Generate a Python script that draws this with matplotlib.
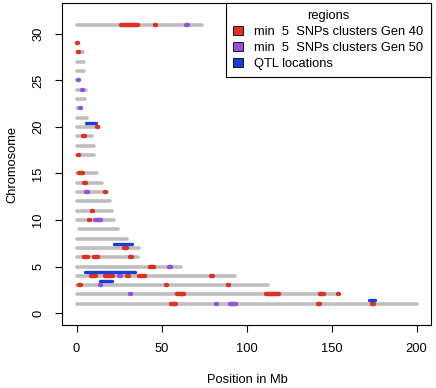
import matplotlib
matplotlib.use("Agg")
import matplotlib.pyplot as plt
from matplotlib.patches import Patch

plt.rcParams['font.family'] = ['Liberation Sans', 'DejaVu Sans']

# chromosome lengths in Mb (chromosome 1..31)
chrom_lengths = [200.3, 154.0, 112.8, 93.3, 61.3, 36.3, 36.8, 29.8, 24.5, 21.8,
                 20.8, 19.8, 18.0, 14.8, 12.1, 0.3, 10.2, 10.2, 9.2, 13.2,
                 6.2, 2.6, 5.0, 5.5, 1.3, 4.6, 4.3, 3.8, 0.5, 0.1, 73.8]
chrom_starts = [0] * 31
chrom_starts[8] = 1.5

# clusters (chromosome, start Mb, end Mb)
gen40 = [
    (1, 1.3, 1.7), (1, 55.3, 58.7), (1, 113.0, 113.1), (1, 117.1, 117.3),
    (1, 128.8, 129.1), (1, 142.1, 143.4), (1, 173.8, 174.7), (1, 186.6, 186.9),
    (1, 200.1, 200.2),
    (2, 4.3, 4.6), (2, 15.3, 15.4), (2, 59.1, 63.0), (2, 111.3, 119.3),
    (2, 143.3, 145.7), (2, 154.0, 154.1),
    (3, 1.3, 2.7), (3, 52.7, 53.2), (3, 68.6, 68.7), (3, 79.8, 79.9), (3, 89.3, 89.7),
    (4, 8.7, 11.4), (4, 17.0, 21.2), (4, 29.7, 31.0), (4, 37.0, 40.2),
    (4, 79.3, 80.1), (4, 85.0, 85.1),
    (5, 16.0, 16.1), (5, 43.0, 45.3), (5, 58.3, 58.7),
    (6, 4.3, 6.9), (6, 10.1, 12.4), (6, 31.7, 32.7),
    (7, 27.8, 29.7), (7, 36.9, 37.0),
    (10, 1.0, 1.1), (10, 7.5, 7.6),
    (11, 9.3, 9.5),
    (12, 17.3, 17.4),
    (13, 1.4, 1.5), (13, 10.6, 10.7), (13, 17.0, 17.3),
    (14, 0.7, 0.8), (14, 4.3, 5.5),
    (15, 1.3, 3.7),
    (17, 1.0, 1.2), (17, 7.8, 7.9),
    (19, 3.7, 4.9),
    (20, 11.8, 12.4),
    (23, 5.0, 5.1),
    (24, 1.2, 1.3),
    (26, 4.3, 4.6),
    (27, 1.6, 1.7),
    (28, 1.0, 1.2),
    (29, 0.5, 0.6),
    (31, 1.0, 1.1), (31, 26.3, 36.3), (31, 46.0, 47.0),
]

gen50 = [
    (1, 8.9, 9.0), (1, 24.3, 24.4), (1, 82.0, 82.6), (1, 90.3, 93.7),
    (1, 122.7, 122.8), (1, 137.0, 137.5), (1, 157.6, 157.7), (1, 192.9, 193.0),
    (2, 31.7, 31.8), (2, 56.0, 56.1),
    (3, 14.0, 14.4), (3, 41.9, 42.0), (3, 77.6, 77.7),
    (4, 4.2, 4.3), (4, 24.8, 26.2), (4, 74.7, 74.8),
    (5, 1.0, 1.1), (5, 54.3, 55.7),
    (7, 4.8, 4.9), (7, 13.0, 13.1), (7, 24.8, 25.2),
    (9, 24.4, 24.6),
    (10, 4.2, 4.3), (10, 10.7, 14.3),
    (12, 1.0, 1.1), (12, 5.0, 5.2),
    (13, 5.3, 6.7), (13, 13.3, 13.4),
    (17, 3.2, 3.4),
    (20, 8.9, 9.0),
    (22, 2.0, 2.6),
    (23, 0.8, 1.0),
    (24, 3.4, 3.5), (24, 5.6, 5.7),
    (25, 1.0, 1.2),
    (31, 64.3, 65.7),
]

qtl = [(1, 171.9, 175.6), (3, 13.6, 20.6), (4, 5.2, 34.4), (7, 22.0, 32.7), (20, 5.5, 11.5)]

gray = '#BEBEBE'
red = '#E0301E'
purple = '#9A4FDC'
blue = '#1B3FD6'

fig = plt.figure(figsize=(4.36, 3.88), dpi=100)
ax = fig.add_axes([0.1429, 0.1624, 0.845, 0.829])

for i, (s, L) in enumerate(zip(chrom_starts, chrom_lengths)):
    ax.plot([s, L], [i + 1, i + 1], color=gray, lw=2.6, solid_capstyle='round', zorder=1)

for segs, col in [(gen40, red), (gen50, purple)]:
    for c, a, b in segs:
        ax.plot([a, b], [c, c], color=col, lw=3.2, solid_capstyle='round', zorder=2)

for c, a, b in qtl:
    ax.plot([a, b], [c + 0.43, c + 0.43], color=blue, lw=2.4, solid_capstyle='round', zorder=3)

ax.set_xlim(-8.4, 208.3)
ax.set_ylim(-1.28, 33.28)
ax.set_xticks([0, 50, 100, 150, 200])
ax.set_yticks([0, 5, 10, 15, 20, 25, 30])
ax.tick_params(direction='out', length=5, width=0.8, labelsize=9.3, pad=8)
for lab in ax.get_yticklabels():
    lab.set_rotation(90)
    lab.set_va('center')
for sp in ax.spines.values():
    sp.set_linewidth(0.8)

fig.text(247 / 436, 1 - 380 / 388, 'Position in Mb', ha='center', va='center', fontsize=9.3)
fig.text(12 / 436, 1 - 164 / 388, 'Chromosome', ha='center', va='center', rotation=90, fontsize=9.3)

handles = [Patch(facecolor=red, edgecolor='black', lw=0.6),
           Patch(facecolor=purple, edgecolor='black', lw=0.6),
           Patch(facecolor=blue, edgecolor='black', lw=0.6)]
labels = ['min  5  SNPs clusters Gen 40', 'min  5  SNPs clusters Gen 50', 'QTL locations']
leg = ax.legend(handles, labels, title='regions', loc='upper right', bbox_to_anchor=(1, 1),
                borderaxespad=0, fontsize=9.3, title_fontsize=9.3, fancybox=False,
                edgecolor='black', framealpha=1, handlelength=0.8, handleheight=0.7,
                handletextpad=0.85, labelspacing=0.3, borderpad=0.55)
leg.get_frame().set_linewidth(0.8)

fig.savefig('out.png', dpi=100)
